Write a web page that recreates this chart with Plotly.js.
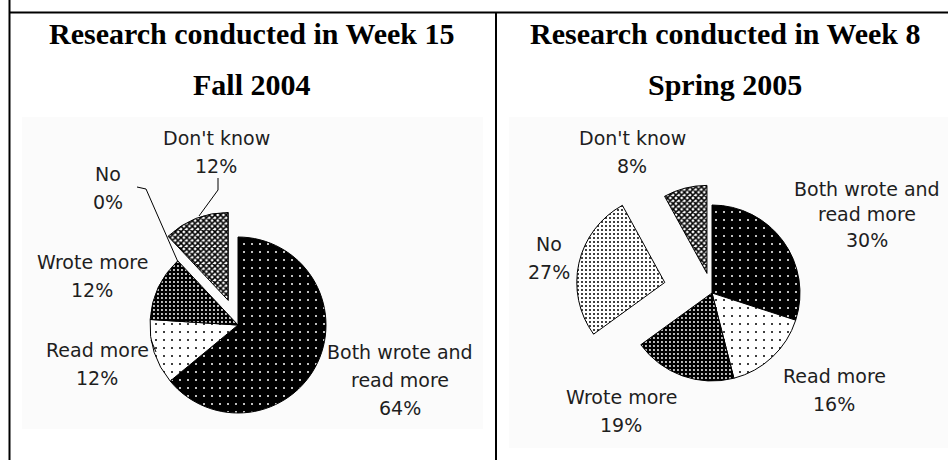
<!DOCTYPE html>
<html><head><meta charset="utf-8">
<script src="https://cdn.plot.ly/plotly-3.0.1.min.js"></script>
<style>html,body{margin:0;padding:0;background:#fff}#chart{width:948px;height:460px}</style>
</head><body><div id="chart"></div>
<script>
// ---- data ----
const categories = ["Both wrote and read more", "Read more", "Wrote more", "No", "Don't know"];
const categoryLines = [["Both wrote and", "read more"], ["Read more"], ["Wrote more"], ["No"], ["Don't know"]];
const fall2004 = [64, 12, 12, 0, 12];
const spring2005 = [30, 16, 19, 27, 8];
const titlesFall = ["Research conducted in Week 15", "Fall 2004"];
const titlesSpring = ["Research conducted in Week 8", "Spring 2005"];

// ---- layout helpers (positions in pixels of the 948x460 page) ----
const W = 948, H = 460;
const X = px => px / W, Y = py => 1 - py / H;

const patterns = {
  shape:    [".", ".", ".", ".", "x"],
  bgcolor:  ["#000", "#fff", "#000", "#fff", "#fff"],
  fgcolor:  ["#fff", "#000", "#fff", "#000", "#000"],
  size:     [8, 8, 4, 4, 4],
  solidity: [0.05, 0.05, 0.18, 0.2, 0.62]
};

function pieTrace(values, pulls, cx, cy, r) {
  const maxPull = Math.max.apply(null, pulls);
  const half = r * (1 + maxPull);
  return {
    type: "pie", labels: categories, values: values, sort: false,
    direction: "clockwise", rotation: 0, pull: pulls,
    textinfo: "none", hoverinfo: "label+percent", showlegend: false,
    domain: {x: [X(cx - half), X(cx + half)], y: [Y(cy + half), Y(cy - half)]},
    marker: {
      colors: patterns.bgcolor,
      pattern: Object.assign({fillmode: "replace"}, patterns),
      line: {color: "#000", width: values.map(v => v > 0 ? 1 : 0)}
    }
  };
}

const traces = [
  pieTrace(fall2004, [0, 0, 0, 0, 0.30], 238, 325, 88),
  pieTrace(spring2005, [0, 0, 0, 0.55, 0.23], 712, 293, 88)
];

// label placement: [centerX, firstLineY, lineSpacing]
const labelPosFall = [[400, 352, 28], [97, 350, 28], [92, 262, 28], [108, 174, 28], [216, 138, 28]];
const labelPosSpring = [[867, 189, 25.5], [834, 376, 28], [621, 397, 28], [549, 244, 28], [632, 138, 28]];

const labelFont = {family: "DejaVu Sans, sans-serif", size: 19, color: "#1e1e1e"};
const titleFont = {family: "Liberation Serif, Times New Roman, serif", size: 30, color: "#000"};

const annotations = [];
function addLabels(values, pos) {
  const total = values.reduce((a, b) => a + b, 0);
  values.forEach((v, i) => {
    const lines = categoryLines[i].concat([Math.round(v / total * 100) + "%"]);
    lines.forEach((t, k) => {
      annotations.push({xref: "paper", yref: "paper", x: X(pos[i][0]), y: Y(pos[i][1] + k * pos[i][2]),
        text: t, showarrow: false, xanchor: "center", yanchor: "middle", font: labelFont});
    });
  });
}
addLabels(fall2004, labelPosFall);
addLabels(spring2005, labelPosSpring);

function addTitle(lines, cx) {
  [33, 84].forEach((py, k) => annotations.push({xref: "paper", yref: "paper", x: X(cx), y: Y(py),
    text: "<b>" + lines[k] + "</b>", showarrow: false, xanchor: "center", yanchor: "middle", font: titleFont}));
}
addTitle(titlesFall, 252);
addTitle(titlesSpring, 725);

// ---- shapes: image panels, table borders, leader lines ----
function pathOf(pts) { return pts.map((p, i) => (i ? "L" : "M") + X(p[0]) + "," + Y(p[1])).join(" "); }
const shapes = [
  {type: "rect", xref: "paper", yref: "paper", x0: X(22), x1: X(483), y0: Y(429), y1: Y(117), fillcolor: "#fbfbfb", line: {width: 0}, layer: "below"},
  {type: "rect", xref: "paper", yref: "paper", x0: X(509), x1: X(948), y0: Y(448), y1: Y(117), fillcolor: "#fbfbfb", line: {width: 0}, layer: "below"},
  {type: "line", xref: "paper", yref: "paper", x0: X(9.5), x1: X(9.5), y0: 0, y1: 1, line: {color: "#000", width: 2}},
  {type: "line", xref: "paper", yref: "paper", x0: X(9), x1: 1, y0: Y(12.5), y1: Y(12.5), line: {color: "#000", width: 2}},
  {type: "line", xref: "paper", yref: "paper", x0: X(496), x1: X(496), y0: 0, y1: Y(12), line: {color: "#000", width: 2}}
];
const leaders = [
  [[218, 178], [218, 190], [199, 216]],
  [[137, 187], [146, 189], [178, 262]],
  [[151, 340], [156, 352]]
];
leaders.forEach(p => shapes.push({type: "path", xref: "paper", yref: "paper", path: pathOf(p), line: {color: "#000", width: 1}}));

Plotly.newPlot("chart", traces, {
  width: W, height: H, margin: {l: 0, r: 0, t: 0, b: 0},
  paper_bgcolor: "#fff", plot_bgcolor: "#fff",
  annotations: annotations, shapes: shapes
}, {displayModeBar: false, staticPlot: true});
</script>
</body></html>
